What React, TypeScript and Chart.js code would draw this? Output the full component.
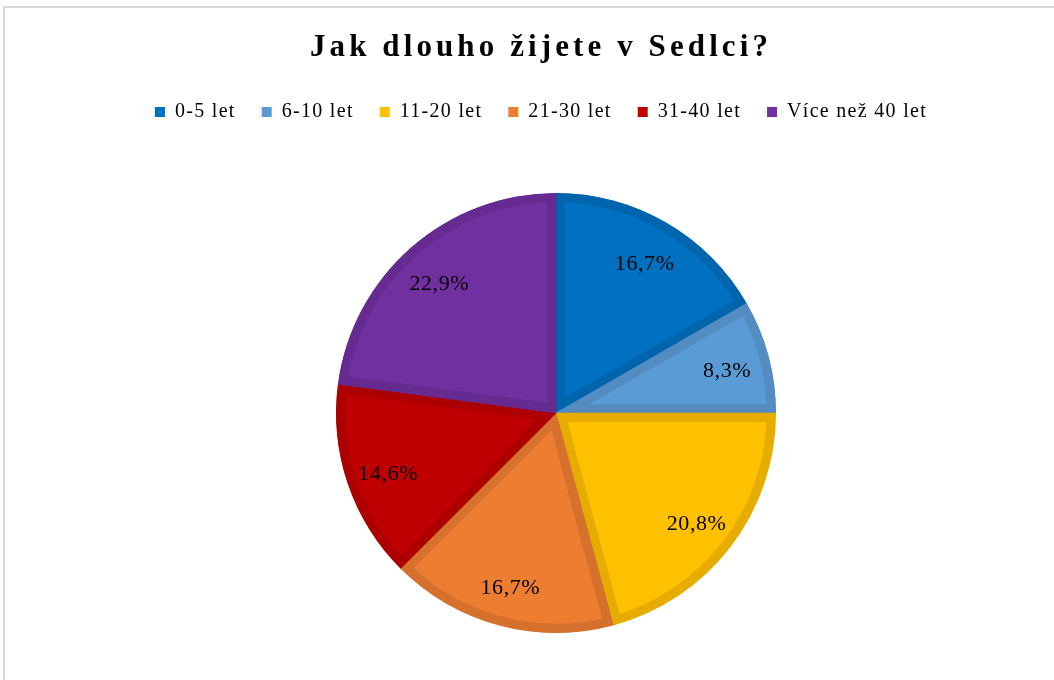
import React, { useEffect, useRef } from "react";
import { Chart, registerables } from "chart.js";

Chart.register(...registerables);

const titleText = "Jak dlouho žijete v Sedlci?";
const categories = ["0-5 let", "6-10 let", "11-20 let", "21-30 let", "31-40 let", "Více než 40 let"];
const values = [16.7, 8.3, 20.8, 16.7, 14.6, 22.9];
const fillColors = ["#0070C0", "#5B9BD5", "#FFC000", "#ED7D31", "#C00000", "#7030A0"];
const borderColors = ["#0065AD", "#528CC0", "#E6AD00", "#D5712C", "#AD0000", "#652B90"];

const FONT = "'Liberation Serif', 'Times New Roman', serif";

const spacingPlugin = {
  id: "spacing",
  beforeLayout(chart: any) {
    (chart.ctx as any).letterSpacing = "1.3px";
  },
  afterLayout(chart: any) {
    const a = chart.chartArea;
    a.left += 15;
    a.right += 15;
    const tb = chart.titleBlock;
    if (tb && !tb.__wrapped) {
      const orig = tb.draw;
      tb.draw = function (...args: any[]) {
        const ctx = chart.ctx as any;
        const prev = ctx.letterSpacing;
        ctx.letterSpacing = "4.1px";
        orig.apply(this, args);
        ctx.letterSpacing = prev;
      };
      tb.__wrapped = true;
    }
  },
  beforeDraw(chart: any) {
    (chart.ctx as any).letterSpacing = "1.3px";
  },
};

const labelPlugin = {
  id: "sliceLabels",
  afterDatasetsDraw(chart: any) {
    const ctx = chart.ctx as any;
    const meta = chart.getDatasetMeta(0);
    ctx.save();
    ctx.letterSpacing = "0.6px";
    ctx.font = `22px ${FONT}`;
    ctx.fillStyle = "#000000";
    ctx.textAlign = "center";
    ctx.textBaseline = "middle";
    meta.data.forEach((arc: any, i: number) => {
      const p = arc.getProps(["x", "y", "startAngle", "endAngle", "outerRadius"], true);
      const mid = (p.startAngle + p.endAngle) / 2;
      const r = p.outerRadius * 0.805;
      const tx = p.x + Math.cos(mid) * r;
      const ty = p.y + Math.sin(mid) * r + 4;
      ctx.fillText(values[i].toFixed(1).replace(".", ",") + "%", tx, ty);
    });
    ctx.restore();
  },
};

export default function App() {
  const ref = useRef<HTMLCanvasElement | null>(null);

  useEffect(() => {
    if (!ref.current) return;
    const chart = new Chart(ref.current, {
      type: "pie",
      data: {
        labels: categories,
        datasets: [
          {
            data: values,
            backgroundColor: fillColors,
            borderColor: borderColors,
            borderWidth: 9,
            borderAlign: "inner",
            borderJoinStyle: "miter",
            radius: 220,
          } as any,
        ],
      },
      options: {
        responsive: false,
        animation: false,
        layout: { padding: { bottom: 6 } },
        plugins: {
          title: {
            display: true,
            text: titleText,
            color: "#000000",
            font: { family: FONT, size: 31, weight: "bold", lineHeight: 1.2 },
            padding: { top: 29.4, bottom: 9.4 },
          },
          legend: {
            display: true,
            position: "top",
            labels: {
              color: "#000000",
              font: { family: FONT, size: 20 },
              boxWidth: 10,
              boxHeight: 10,
              padding: 26,
              generateLabels: () =>
                categories.map((text, i) => ({
                  text,
                  fillStyle: fillColors[i],
                  strokeStyle: fillColors[i],
                  fontColor: "#000000",
                  lineWidth: 0,
                  hidden: false,
                  index: i,
                })),
            },
          },
          tooltip: { enabled: false },
        },
      },
      plugins: [spacingPlugin, labelPlugin],
    });
    return () => chart.destroy();
  }, []);

  return (
    <div
      style={{
        position: "absolute",
        left: 0,
        top: 0,
        width: 1054,
        height: 680,
        overflow: "hidden",
        background: "#ffffff",
      }}
    >
      <div
        style={{
          position: "absolute",
          left: 3,
          top: 6,
          width: 1060,
          height: 700,
          borderTop: "2px solid #D9D9D9",
          borderLeft: "2px solid #D9D9D9",
        }}
      />
      <canvas
        ref={ref}
        width={1054}
        height={700}
        style={{ position: "absolute", left: 14, top: 0, width: 1054, height: 700 }}
      />
    </div>
  );
}
